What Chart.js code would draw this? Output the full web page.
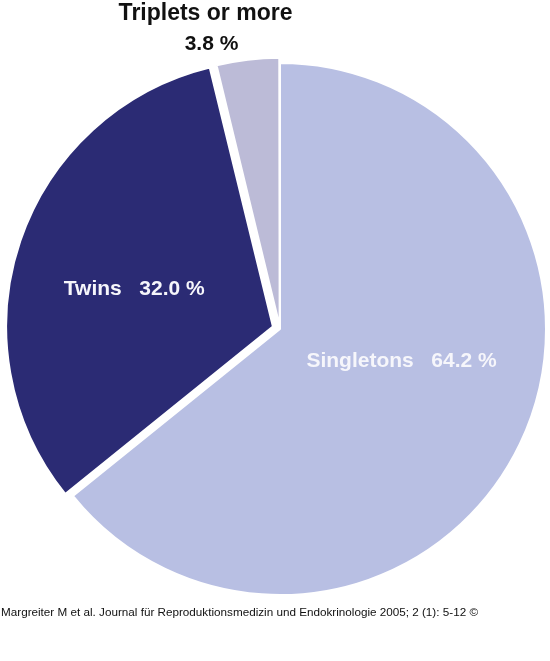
<!DOCTYPE html>
<html>
<head>
<meta charset="utf-8">
<script src="https://cdn.jsdelivr.net/npm/chart.js@4"></script>
<style>
  body { margin: 0; background: #ffffff; }
  .wrap { position: relative; width: 550px; height: 661px; }
  .source {
    position: absolute;
    left: 1px;
    top: 605px;
    font-family: "Liberation Sans", Arial, sans-serif;
    font-size: 11.7px;
    color: #111111;
    white-space: nowrap;
  }
</style>
</head>
<body>
<div class="wrap">
  <canvas id="birthChart" width="550" height="661"></canvas>
  <div class="source">Margreiter M et al. Journal für Reproduktionsmedizin und Endokrinologie 2005; 2 (1): 5-12 ©</div>
</div>
<script>
// Chart data
const categories = ["Singletons", "Twins", "Triplets or more"];
const shares = [64.2, 32.0, 3.8];
const shareLabels = ["64.2 %", "32.0 %", "3.8 %"];

const sliceColors = ["#b8bfe3", "#2b2b74", "#bcbbd7"];

// Label placement relative to the pie centre, in units of radius
const labelSpots = [
  { dx: 0.457, dy: 0.12, color: "#f6f6fb" },
  { dx: -0.548, dy: -0.15, color: "#f6f6fb" },
  { dx: -0.28, dy: -1.185, color: "#111111" },
];

const sliceLabels = {
  id: "sliceLabels",
  afterDatasetsDraw(chart) {
    const ctx = chart.ctx;
    const arcs = chart.getDatasetMeta(0).data;
    const cx = (chart.chartArea.left + chart.chartArea.right) / 2;
    const cy = (chart.chartArea.top + chart.chartArea.bottom) / 2;
    ctx.save();
    ctx.textAlign = "center";
    ctx.textBaseline = "middle";

    arcs.forEach((arc, i) => {
      const r = arc.outerRadius;
      const spot = labelSpots[i];
      const x = cx + spot.dx * r;
      const y = cy + spot.dy * r;
      ctx.fillStyle = spot.color;
      if (i === 2) {
        ctx.font = "bold 23px 'Liberation Sans', Arial, sans-serif";
        ctx.fillText(categories[i], x, y);
        ctx.font = "bold 21px 'Liberation Sans', Arial, sans-serif";
        ctx.fillText(shareLabels[i], x + 6, y + 30);
      } else {
        ctx.font = "bold 21px 'Liberation Sans', Arial, sans-serif";
        ctx.fillText(categories[i] + "   " + shareLabels[i], x, y);
      }
    });
    ctx.restore();
  },
};

const birthChart = new Chart(document.getElementById("birthChart"), {
  type: "pie",
  data: {
    labels: categories,
    datasets: [
      {
        data: shares,
        backgroundColor: sliceColors,
        borderColor: "#ffffff",
        borderWidth: 2,
        offset: [0, 30, 12],
        radius: 266,
      },
    ],
  },
  options: {
    responsive: false,
    animation: false,
    layout: {
      padding: { left: 10, right: 0, top: 0, bottom: 3 },
    },
    plugins: {
      legend: { display: false },
      tooltip: { enabled: false },
    },
  },
  plugins: [sliceLabels],
});
</script>
</body>
</html>
